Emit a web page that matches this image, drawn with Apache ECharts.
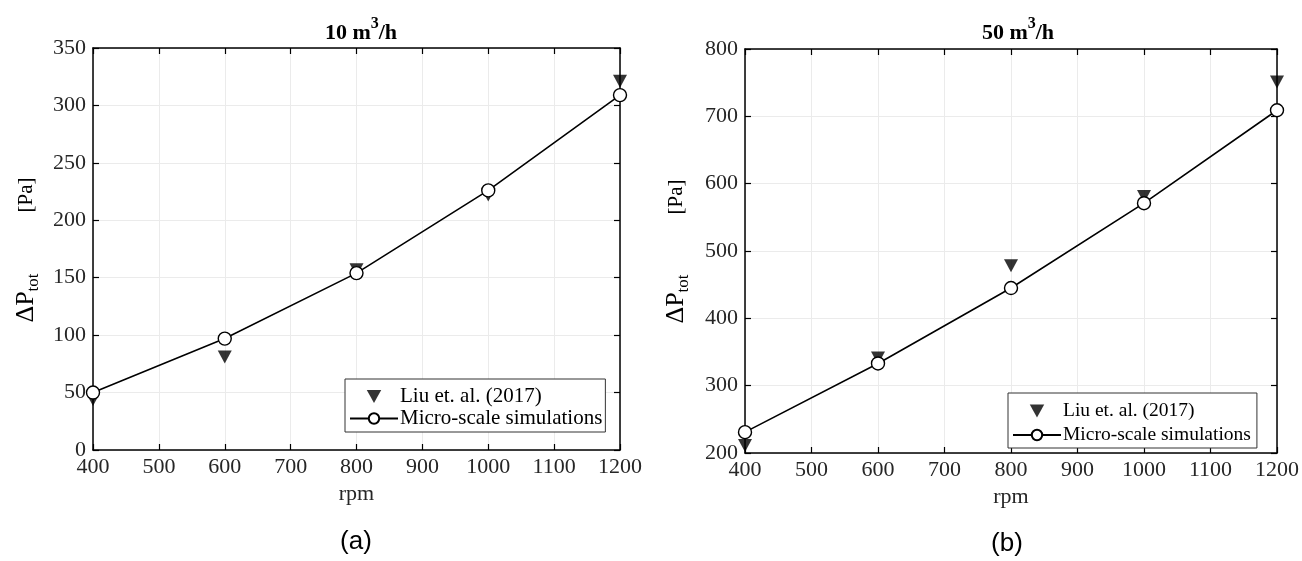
<!DOCTYPE html>
<html>
<head>
<meta charset="utf-8">
<script src="https://cdn.jsdelivr.net/npm/echarts@6/dist/echarts.min.js"></script>
<style>html,body{margin:0;padding:0;background:#fff}#c{width:1302px;height:561px}</style>
</head>
<body>
<div id="c"></div>
<script>
// ---- data ----
var rpm = [400, 600, 800, 1000, 1200];
var liu10 = [44, 81, 157, 222, 321];
var sim10 = [50, 97, 154, 226, 309];
var liu50 = [211, 341, 478, 581, 751];
var sim50 = [231, 333, 445, 571, 709];
var xTicks = [400, 500, 600, 700, 800, 900, 1000, 1100, 1200];
var yTicks10 = [0, 50, 100, 150, 200, 250, 300, 350];
var yTicks50 = [200, 300, 400, 500, 600, 700, 800];
var seriesNames = ['Liu et. al. (2017)', 'Micro-scale simulations'];

function pairs(xs, ys) { return xs.map(function (x, i) { return [x, ys[i]]; }); }

var serif = '"Liberation Serif","Times New Roman",serif';
var txt = '#262626';
var triPath = 'path://M0,0L10,0L5,9Z';
function plain(v) { return String(v); }

function xAxes(gi) {
  return [{
    gridIndex: gi, type: 'value', min: xTicks[0], max: xTicks[xTicks.length - 1], interval: 100,
    position: 'bottom',
    name: 'rpm', nameLocation: 'middle', nameGap: 32,
    nameTextStyle: { fontFamily: serif, fontSize: 22, color: txt, verticalAlign: 'top' },
    axisLine: { show: true, onZero: false, lineStyle: { color: '#000', width: 1.5 } },
    axisTick: { show: true, inside: true, length: 6, lineStyle: { color: '#000', width: 1.2 } },
    axisLabel: { fontFamily: serif, fontSize: 22, color: txt, margin: 6, formatter: plain },
    splitLine: { show: true, lineStyle: { color: '#ebebeb', width: 1 } }
  }, {
    gridIndex: gi, type: 'value', min: xTicks[0], max: xTicks[xTicks.length - 1], interval: 100,
    position: 'top',
    axisLine: { show: true, onZero: false, lineStyle: { color: '#000', width: 1.5 } },
    axisTick: { show: true, inside: true, length: 6, lineStyle: { color: '#000', width: 1.2 } },
    axisLabel: { show: false }, splitLine: { show: false }
  }];
}
function yAxes(gi, ticks) {
  var mn = ticks[0], mx = ticks[ticks.length - 1], iv = ticks[1] - ticks[0];
  return [{
    gridIndex: gi, type: 'value', min: mn, max: mx, interval: iv, position: 'left',
    axisLine: { show: true, onZero: false, lineStyle: { color: '#000', width: 1.5 } },
    axisTick: { show: true, inside: true, length: 6, lineStyle: { color: '#000', width: 1.2 } },
    axisLabel: { fontFamily: serif, fontSize: 22, color: txt, margin: 7, formatter: plain },
    splitLine: { show: true, lineStyle: { color: '#ebebeb', width: 1 } }
  }, {
    gridIndex: gi, type: 'value', min: mn, max: mx, interval: iv, position: 'right',
    axisLine: { show: true, onZero: false, lineStyle: { color: '#000', width: 1.5 } },
    axisTick: { show: true, inside: true, length: 6, lineStyle: { color: '#000', width: 1.2 } },
    axisLabel: { show: false }, splitLine: { show: false }
  }];
}
function makeSeries(gi, liu, sim) {
  return [{
    name: seriesNames[0], type: 'scatter', xAxisIndex: gi * 2, yAxisIndex: gi * 2,
    data: pairs(rpm, liu), symbol: triPath, symbolSize: [14, 13],
    itemStyle: { color: '#000' }, z: 3
  }, {
    name: seriesNames[1], type: 'line', xAxisIndex: gi * 2, yAxisIndex: gi * 2,
    data: pairs(rpm, sim), symbol: 'circle', symbolSize: 13, showSymbol: true,
    lineStyle: { color: '#000', width: 1.6 },
    itemStyle: { color: '#fff', borderColor: '#000', borderWidth: 1.4 }, z: 4
  }];
}
function titleRich(num) {
  return {
    text: '{b|' + num + ' m}{s|3}{b|/h}', top: 11,
    textStyle: {
      rich: {
        b: { fontFamily: serif, fontWeight: 'bold', fontSize: 22, color: '#000', lineHeight: 28, verticalAlign: 'bottom' },
        s: { fontFamily: serif, fontWeight: 'bold', fontSize: 16, color: '#000', lineHeight: 28, verticalAlign: 'top' }
      }
    }
  };
}
function legend(left, top, fs, gap, pad) {
  return {
    data: [{ name: seriesNames[0], icon: triPath }, { name: seriesNames[1] }],
    orient: 'vertical', left: left, top: top,
    backgroundColor: '#fff', borderColor: '#333', borderWidth: 1,
    padding: pad, itemWidth: 48, itemHeight: 13, itemGap: gap,
    selectedMode: false,
    textStyle: { fontFamily: serif, fontSize: fs, color: '#000', padding: [0, 0, 0, -3] }
  };
}
function yName(x, yMain, yUnit) {
  return [{
    type: 'text', x: x, y: yMain, rotation: Math.PI / 2,
    style: {
      text: '{d|\u0394P}{s|tot}', align: 'center', verticalAlign: 'middle',
      rich: {
        d: { fontFamily: serif, fontSize: 26, fill: '#000', lineHeight: 32, verticalAlign: 'middle' },
        s: { fontFamily: serif, fontSize: 17, fill: '#000', lineHeight: 32, verticalAlign: 'bottom', padding: [12, 0, 0, 0] }
      }
    }
  }, {
    type: 'text', x: x, y: yUnit, rotation: Math.PI / 2,
    style: { text: '[Pa]', align: 'center', verticalAlign: 'middle', fontFamily: serif, fontSize: 21, fill: '#000' }
  }];
}

var t1 = titleRich('10'); t1.left = 356; t1.textAlign = 'center';
var t2 = titleRich('50'); t2.left = 1013; t2.textAlign = 'center';

var option = {
  backgroundColor: '#fff',
  animation: false,
  title: [t1, t2],
  grid: [
    { left: 93, right: 682, top: 48, bottom: 111 },
    { left: 745, right: 23, top: 49, bottom: 108 }
  ],
  xAxis: xAxes(0).concat(xAxes(1)),
  yAxis: yAxes(0, yTicks10).concat(yAxes(1, yTicks50)),
  legend: [legend(345, 379, 21, 1, [7, 3, 3, 4]), legend(1008, 393, 19.5, 4, [8, 6, 3, 4])],
  series: makeSeries(0, liu10, sim10).concat(makeSeries(1, liu50, sim50)),
  graphic: yName(26, 298, 195).concat(yName(676, 299, 197)).concat([
    { type: 'text', x: 356, y: 542, style: { text: '(a)', align: 'center', verticalAlign: 'middle', fontFamily: '"Liberation Sans",Arial,sans-serif', fontSize: 26, fill: '#000' } },
    { type: 'text', x: 1007, y: 544, style: { text: '(b)', align: 'center', verticalAlign: 'middle', fontFamily: '"Liberation Sans",Arial,sans-serif', fontSize: 26, fill: '#000' } }
  ])
};
var chart = echarts.init(document.getElementById('c'), null, { renderer: 'canvas' });
chart.setOption(option);
</script>
</body>
</html>
